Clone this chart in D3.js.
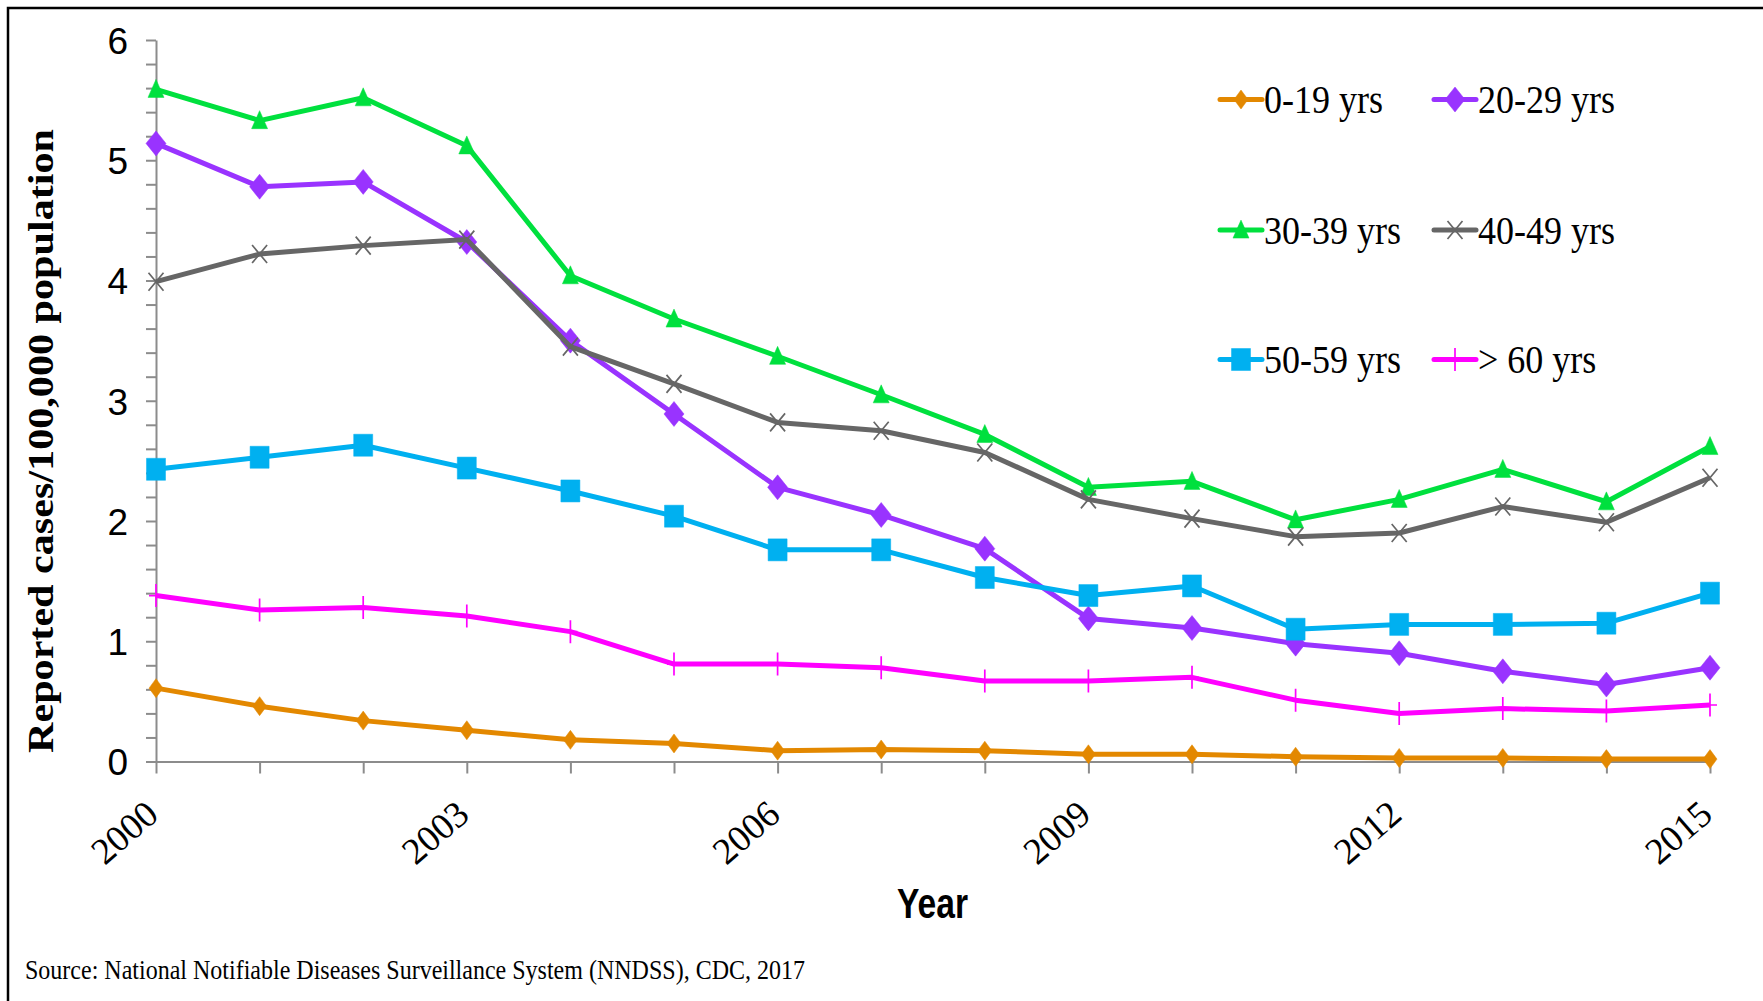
<!DOCTYPE html>
<html>
<head>
<meta charset="utf-8">
<script src="https://cdn.jsdelivr.net/npm/d3@7/dist/d3.min.js"></script>
<style>
  html, body { margin: 0; padding: 0; background: #fff; }
  svg { display: block; }
</style>
</head>
<body>
<svg id="chart" width="1763" height="1001"></svg>
<script>
// Reported cases per 100,000 population by age group, 2000-2015
const years = [2000, 2001, 2002, 2003, 2004, 2005, 2006, 2007, 2008, 2009, 2010, 2011, 2012, 2013, 2014, 2015];
const ageGroups = ["0-19 yrs", "20-29 yrs", "30-39 yrs", "40-49 yrs", "50-59 yrs", "> 60 yrs"];

const rate0to19  = [0.61, 0.46, 0.34, 0.26, 0.18, 0.15, 0.09, 0.10, 0.09, 0.06, 0.06, 0.04, 0.03, 0.03, 0.02, 0.02];
const rate20to29 = [5.14, 4.78, 4.82, 4.32, 3.50, 2.89, 2.28, 2.05, 1.77, 1.19, 1.11, 0.98, 0.90, 0.75, 0.64, 0.78];
const rate30to39 = [5.59, 5.33, 5.52, 5.12, 4.04, 3.68, 3.37, 3.05, 2.72, 2.28, 2.33, 2.01, 2.18, 2.43, 2.16, 2.62];
const rate40to49 = [3.99, 4.22, 4.29, 4.34, 3.45, 3.14, 2.82, 2.75, 2.57, 2.18, 2.02, 1.87, 1.90, 2.12, 1.99, 2.36];
const rate50to59 = [2.43, 2.53, 2.63, 2.44, 2.25, 2.04, 1.76, 1.76, 1.53, 1.38, 1.46, 1.10, 1.14, 1.14, 1.15, 1.40];
const rate60plus = [1.38, 1.26, 1.28, 1.21, 1.08, 0.81, 0.81, 0.78, 0.67, 0.67, 0.70, 0.51, 0.40, 0.44, 0.42, 0.47];

const seriesValues = [rate0to19, rate20to29, rate30to39, rate40to49, rate50to59, rate60plus];

const yTickValues = [0, 1, 2, 3, 4, 5, 6];
const xTickLabels = [2000, 2003, 2006, 2009, 2012, 2015];

const yTitle = "Reported cases/100,000 population";
const xTitle = "Year";
const sourceNote = "Source: National Notifiable Diseases Surveillance System (NNDSS), CDC, 2017";

// Appearance of each series: colour and marker shape
const seriesStyles = [
  { color: "#E38800", marker: "diamond",  w: 14, h: 19 },
  { color: "#9933FF", marker: "diamond",  w: 20, h: 25 },
  { color: "#00E03E", marker: "triangle", w: 16, h: 18 },
  { color: "#666666", marker: "cross",    w: 15, h: 18 },
  { color: "#00B0F0", marker: "square",   w: 19, h: 22 },
  { color: "#FF00FF", marker: "plus",     w: 14, h: 23 }
];

const svg = d3.select("#chart");
const serif = "'Liberation Serif', 'Times New Roman', serif";
const sans = "'Liberation Sans', Arial, sans-serif";

// Frame lines along the left and top edges
svg.append("path")
  .attr("d", "M8,1001 V8 H1763")
  .attr("fill", "none")
  .attr("stroke", "#000")
  .attr("stroke-width", 2.5);

const x = d3.scaleLinear().domain([2000, 2015]).range([156, 1710]);
const y = d3.scaleLinear().domain([0, 6]).range([761.5, 40]);

// Squeeze text horizontally to a given fraction of its natural width
function squeeze(sel, k) {
  sel.each(function () {
    const t = d3.select(this);
    const w = this.getComputedTextLength();
    t.attr("textLength", w * k).attr("lengthAdjust", "spacingAndGlyphs");
  });
}

// Y axis with minor ticks every 0.2, labels on whole numbers
const yMinor = d3.range(0, 31).map(i => i / 5);
const yAxis = svg.append("g")
  .attr("transform", `translate(${x(2000)},0)`)
  .call(d3.axisLeft(y)
    .tickValues(yMinor)
    .tickSize(10)
    .tickSizeOuter(0)
    .tickPadding(18)
    .tickFormat(d => yTickValues.includes(d) ? d3.format("d")(d) : ""));
yAxis.select(".domain").attr("stroke", "#8c8c8c").attr("stroke-width", 2);
yAxis.selectAll(".tick line").attr("stroke", "#8c8c8c").attr("stroke-width", 2);
yAxis.selectAll(".tick text")
  .attr("fill", "#000")
  .style("font-family", sans)
  .style("font-size", "37px")
  .attr("dy", "0.36em");

// X axis: a tick for every year, labels every third year
const xAxis = svg.append("g")
  .attr("transform", `translate(0,${y(0)})`)
  .call(d3.axisBottom(x)
    .tickValues(years)
    .tickSize(12)
    .tickSizeOuter(0)
    .tickFormat(d => xTickLabels.includes(d) ? String(d) : ""));
xAxis.select(".domain").attr("stroke", "#8c8c8c").attr("stroke-width", 2);
xAxis.selectAll(".tick line").attr("stroke", "#8c8c8c").attr("stroke-width", 2);
xAxis.selectAll(".tick text")
  .attr("fill", "#000")
  .attr("x", 0).attr("y", 0).attr("dy", null)
  .attr("text-anchor", "end")
  .attr("transform", "translate(4,56) rotate(-41)")
  .style("font-family", serif)
  .style("font-size", "37px");

// Marker shapes centred on the point
function markerPath(type, w, h) {
  const a = w / 2, b = h / 2;
  switch (type) {
    case "diamond":  return `M0,${-b}L${a},0L0,${b}L${-a},0Z`;
    case "triangle": return `M0,${-h * 0.55}L${a},${h * 0.45}L${-a},${h * 0.45}Z`;
    case "square":   return `M${-a},${-b}H${a}V${b}H${-a}Z`;
    case "cross":    return `M${-a},${-b}L${a},${b}M${a},${-b}L${-a},${b}`;
    case "plus":     return `M0,${-b}V${b}M${-a},0H${a}`;
  }
}
const stroked = t => t === "cross" || t === "plus";

function drawMarker(g, st, cx, cy) {
  g.append("path")
    .attr("transform", `translate(${cx},${cy})`)
    .attr("d", markerPath(st.marker, st.w, st.h))
    .attr("fill", stroked(st.marker) ? "none" : st.color)
    .attr("stroke", st.color)
    .attr("stroke-width", stroked(st.marker) ? 1.7 : 0.5);
}

const line = d3.line().x((d, i) => x(years[i])).y(d => y(d));

seriesValues.forEach((vals, si) => {
  const st = seriesStyles[si];
  const g = svg.append("g").attr("class", "series");
  g.append("path")
    .datum(vals)
    .attr("d", line)
    .attr("fill", "none")
    .attr("stroke", st.color)
    .attr("stroke-width", 5)
    .attr("stroke-linejoin", "round");
  vals.forEach((v, i) => drawMarker(g, st, x(years[i]), y(v)));
});

// Legend: two columns, three rows
const legendCols = [1220, 1434];
const legendRows = [99.5, 230, 359.5];
const legend = svg.append("g").attr("class", "legend");
ageGroups.forEach((name, i) => {
  const st = seriesStyles[i];
  const lx = legendCols[i % 2];
  const ly = legendRows[Math.floor(i / 2)];
  const g = legend.append("g");
  g.append("line")
    .attr("x1", lx).attr("x2", lx + 42)
    .attr("y1", ly).attr("y2", ly)
    .attr("stroke", st.color)
    .attr("stroke-width", 5)
    .attr("stroke-linecap", "round");
  drawMarker(g, st, lx + 21, ly);
  g.append("text")
    .attr("x", lx + 44)
    .attr("y", ly + 13.5)
    .style("font-family", serif)
    .style("font-size", "40px")
    .attr("fill", "#000")
    .text(name)
    .call(squeeze, 0.9);
});

// Axis titles
svg.append("text")
  .attr("transform", "translate(53,441) rotate(-90)")
  .attr("text-anchor", "middle")
  .style("font-family", serif)
  .style("font-weight", "bold")
  .style("font-size", "36px")
  .attr("fill", "#000")
  .attr("textLength", 624)
  .attr("lengthAdjust", "spacingAndGlyphs")
  .text(yTitle);

svg.append("text")
  .attr("x", 932.5)
  .attr("y", 918)
  .attr("text-anchor", "middle")
  .style("font-family", sans)
  .style("font-weight", "bold")
  .style("font-size", "43px")
  .attr("fill", "#000")
  .attr("textLength", 71)
  .attr("lengthAdjust", "spacingAndGlyphs")
  .text(xTitle);

// Source note
svg.append("text")
  .attr("x", 25)
  .attr("y", 979)
  .style("font-family", serif)
  .style("font-size", "27px")
  .attr("fill", "#000")
  .attr("textLength", 780)
  .attr("lengthAdjust", "spacingAndGlyphs")
  .text(sourceNote);
</script>
</body>
</html>
